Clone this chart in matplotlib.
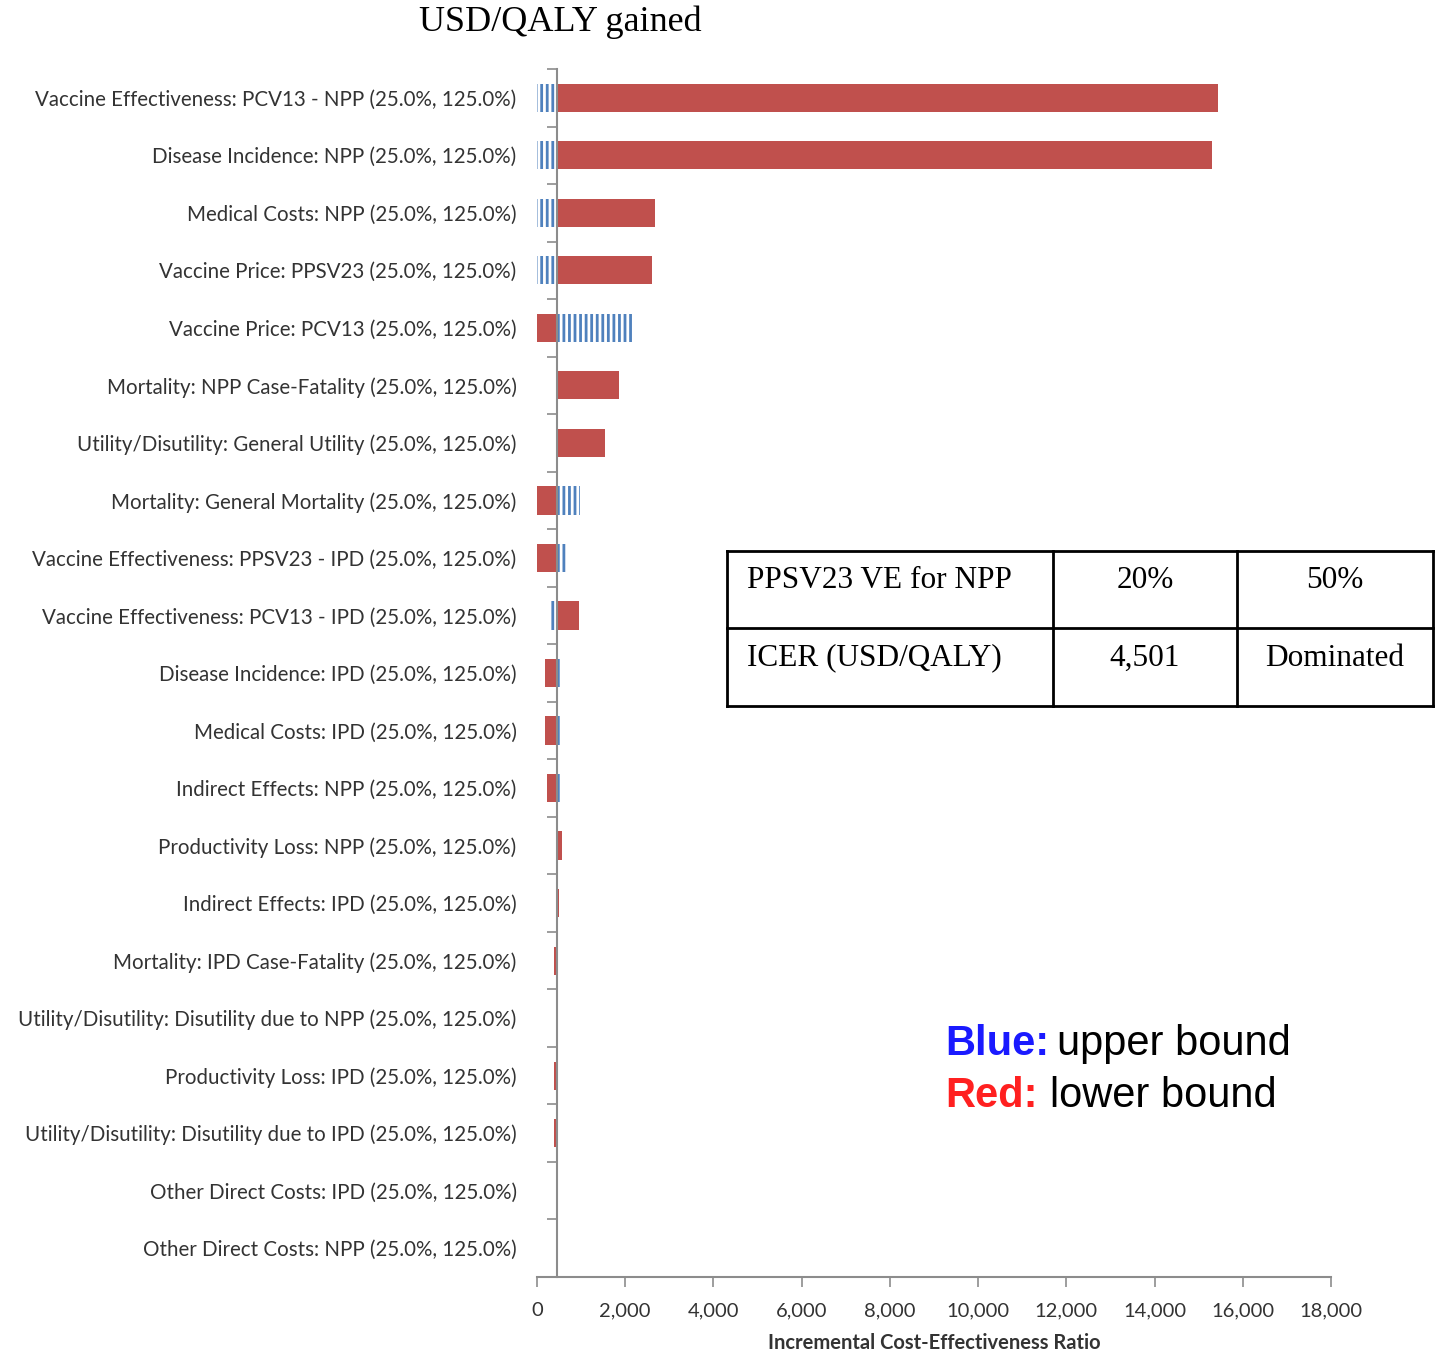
import numpy as np
import matplotlib
matplotlib.use("Agg")
import matplotlib.pyplot as plt
from matplotlib.lines import Line2D
from matplotlib.ticker import FuncFormatter

# 参数标签（自上而下）
labels = [
    "Vaccine Effectiveness: PCV13 - NPP (25.0%, 125.0%)",
    "Disease Incidence: NPP (25.0%, 125.0%)",
    "Medical Costs: NPP (25.0%, 125.0%)",
    "Vaccine Price: PPSV23 (25.0%, 125.0%)",
    "Vaccine Price: PCV13 (25.0%, 125.0%)",
    "Mortality: NPP Case-Fatality (25.0%, 125.0%)",
    "Utility/Disutility: General Utility (25.0%, 125.0%)",
    "Mortality: General Mortality (25.0%, 125.0%)",
    "Vaccine Effectiveness: PPSV23 - IPD (25.0%, 125.0%)",
    "Vaccine Effectiveness: PCV13 - IPD (25.0%, 125.0%)",
    "Disease Incidence: IPD (25.0%, 125.0%)",
    "Medical Costs: IPD (25.0%, 125.0%)",
    "Indirect Effects: NPP (25.0%, 125.0%)",
    "Productivity Loss: NPP (25.0%, 125.0%)",
    "Indirect Effects: IPD (25.0%, 125.0%)",
    "Mortality: IPD Case-Fatality (25.0%, 125.0%)",
    "Utility/Disutility: Disutility due to NPP (25.0%, 125.0%)",
    "Productivity Loss: IPD (25.0%, 125.0%)",
    "Utility/Disutility: Disutility due to IPD (25.0%, 125.0%)",
    "Other Direct Costs: IPD (25.0%, 125.0%)",
    "Other Direct Costs: NPP (25.0%, 125.0%)",
]

# 基准ICER
base = 450

# 下限（红色）与上限（蓝色）对应的ICER
lower_icer = [15440, 15300, 2680, 2600, 0, 1860, 1540, 0, 0, 950,
              180, 180, 220, 560, 510, 390, 450, 390, 390, 450, 450]
upper_icer = [0, 0, 0, 0, 2210, 450, 450, 980, 680, 290,
              520, 520, 520, 450, 450, 450, 450, 450, 450, 450, 450]

x_ticks = np.arange(0, 18001, 2000)

# 表格内容
table_rows = [["PPSV23 VE for NPP", "20%", "50%"],
              ["ICER (USD/QALY)", "4,501", "Dominated"]]

red = '#c0504d'
blue = '#4f81bd'
plt.rcParams['hatch.linewidth'] = 2.0

W, H = 1438, 1356
fig = plt.figure(figsize=(W / 100, H / 100), dpi=100)
ax = fig.add_axes([537 / W, 1 - 1277 / H, (1331 - 537) / W, (1277 - 69) / H])

y = np.arange(len(labels))
low = np.array(lower_icer, dtype=float)
up = np.array(upper_icer, dtype=float)

# 红色条（下限）
ax.barh(y, np.abs(low - base), left=np.minimum(low, base), height=0.49,
        color=red, linewidth=0, zorder=3)
# 蓝色条纹条（上限）
ax.barh(y, np.abs(up - base), left=np.minimum(up, base), height=0.49,
        facecolor='white', edgecolor=blue, hatch='|||', linewidth=0, zorder=3)

ax.set_xlim(0, 18000)
ax.set_ylim(len(labels) - 0.5, -0.5)

# 坐标轴
for s in ['top', 'right']:
    ax.spines[s].set_visible(False)
ax.spines['left'].set_position(('data', base))
ax.spines['left'].set_color('#8c8c8c')
ax.spines['left'].set_linewidth(1.5)
ax.spines['left'].set_zorder(4)
ax.spines['bottom'].set_color('#8c8c8c')
ax.spines['bottom'].set_linewidth(1.5)

ax.set_yticks(y)
ax.set_yticklabels(labels, fontname='Lato', fontsize=14.8, color='#333333')
ax.set_yticks(np.arange(-0.5, len(labels), 1), minor=True)
ax.tick_params(axis='y', which='major', length=0, pad=29)
ax.tick_params(axis='y', which='minor', length=7, width=1.2, color='#8c8c8c')

ax.set_xticks(x_ticks)
ax.xaxis.set_major_formatter(FuncFormatter(lambda v, p: f'{int(v):,}'))
ax.tick_params(axis='x', length=7, width=1.2, color='#8c8c8c', pad=11,
               labelsize=14.5, labelcolor='#333333')
for lab in ax.get_xticklabels():
    lab.set_fontname('Lato')
ax.set_xlabel('Incremental Cost-Effectiveness Ratio', fontname='Lato',
              fontsize=14.5, fontweight='bold', color='#333333', labelpad=10)

# 标题
fig.text(560 / W, 1 - 22 / H, 'USD/QALY gained', fontname='Liberation Serif',
         fontsize=26, ha='center', va='center')

# 表格
def fx(px):
    return px / W

def fy(py):
    return 1 - py / H

lw = 2.0
for py in [551, 628, 706]:
    fig.add_artist(Line2D([fx(727), fx(1433)], [fy(py), fy(py)], color='black', lw=lw))
for px in [727, 1053, 1237, 1433]:
    fig.add_artist(Line2D([fx(px), fx(px)], [fy(551), fy(706)], color='black', lw=lw))

row_y = [581, 658]
for r, row in enumerate(table_rows):
    fig.text(fx(747), fy(row_y[r]), row[0], fontname='Liberation Serif',
             fontsize=22.5, ha='left', va='center')
    fig.text(fx(1145), fy(row_y[r]), row[1], fontname='Liberation Serif',
             fontsize=22.5, ha='center', va='center')
    fig.text(fx(1335), fy(row_y[r]), row[2], fontname='Liberation Serif',
             fontsize=22.5, ha='center', va='center')

# 图例说明
fig.text(fx(945), fy(1044), 'Blue:', fontname='Liberation Sans', fontsize=30,
         fontweight='bold', color='#1a1aff', ha='left', va='center')
fig.text(fx(1057), fy(1044), 'upper bound', fontname='Liberation Sans', fontsize=30,
         color='black', ha='left', va='center')
fig.text(fx(945), fy(1096), 'Red:', fontname='Liberation Sans', fontsize=30,
         fontweight='bold', color='#ff2020', ha='left', va='center')
fig.text(fx(1050), fy(1096), 'lower bound', fontname='Liberation Sans', fontsize=30,
         color='black', ha='left', va='center')

fig.savefig('out.png', dpi=100)
